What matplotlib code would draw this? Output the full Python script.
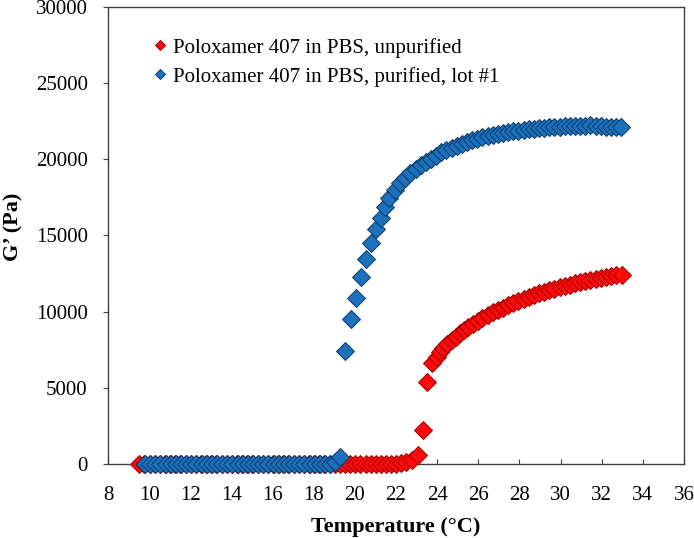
import matplotlib.pyplot as plt

# temperatures (C) and storage modulus G' (Pa)
temp_unpurified = [9.52, 9.77, 10.02, 10.27, 10.52, 10.77, 11.02, 11.27, 11.52, 11.77,
                   12.02, 12.27, 12.52, 12.77, 13.02, 13.27, 13.52, 13.77, 14.02, 14.27,
                   14.52, 14.77, 15.02, 15.27, 15.52, 15.77, 16.02, 16.27, 16.52, 16.77,
                   17.02, 17.27, 17.52, 17.77, 18.02, 18.27, 18.52, 18.77, 19.02, 19.27,
                   19.52, 19.77, 20.02, 20.27, 20.52, 20.77, 21.02, 21.27, 21.52, 21.77,
                   22.0, 22.25, 22.5, 22.76, 23.05, 23.3, 23.5, 23.75, 23.97, 24.15,
                   24.3, 24.5, 24.7, 24.9, 25.1, 25.3, 25.5, 25.75, 26.0, 26.2,
                   26.45, 26.7, 26.95, 27.2, 27.45, 27.7, 27.95, 28.2, 28.45, 28.7,
                   28.95, 29.2, 29.45, 29.7, 29.95, 30.2, 30.45, 30.7, 30.95, 31.2,
                   31.45, 31.7, 31.95, 32.2, 32.45, 32.7, 32.97]
g_unpurified = [0, 0, 0, 0, 0, 0, 0, 0, 0, 0,
                0, 0, 0, 0, 0, 0, 0, 0, 0, 0,
                0, 0, 0, 0, 0, 0, 0, 0, 0, 0,
                0, 0, 0, 0, 0, 0, 0, 0, 0, 0,
                0, 0, 0, 0, 0, 0, 0, 0, 10, 20,
                30, 60, 120, 250, 560, 2200, 5400, 6600, 7050, 7350,
                7600, 7900, 8150, 8350, 8600, 8800, 9000, 9200, 9420, 9600,
                9780, 9950, 10110, 10260, 10420, 10560, 10700, 10840, 10970, 11090,
                11200, 11300, 11410, 11520, 11610, 11700, 11780, 11860, 11940, 12020,
                12100, 12170, 12230, 12290, 12340, 12380, 12400]

temp_purified = [9.8, 10.05, 10.3, 10.55, 10.8, 11.05, 11.3, 11.55, 11.8, 12.05,
                 12.3, 12.55, 12.8, 13.05, 13.3, 13.55, 13.8, 14.05, 14.3, 14.55,
                 14.8, 15.05, 15.3, 15.55, 15.8, 16.05, 16.3, 16.55, 16.8, 17.05,
                 17.3, 17.55, 17.8, 18.05, 18.3, 18.55, 18.8, 19.05, 19.3, 19.52,
                 19.8, 20.04, 20.3, 20.52, 20.77, 21.03, 21.26, 21.47, 21.68, 21.95,
                 22.2, 22.45, 22.7, 22.95, 23.2, 23.45, 23.7, 23.95, 24.2, 24.45,
                 24.7, 24.95, 25.2, 25.45, 25.7, 25.95, 26.2, 26.45, 26.7, 26.95,
                 27.2, 27.45, 27.7, 27.95, 28.2, 28.45, 28.7, 28.95, 29.2, 29.45,
                 29.7, 29.95, 30.2, 30.45, 30.7, 30.95, 31.2, 31.45, 31.7, 31.95,
                 32.2, 32.45, 32.7, 32.95]
g_purified = [0, 0, 0, 0, 0, 0, 0, 0, 0, 0,
              0, 0, 0, 0, 0, 0, 0, 0, 0, 0,
              0, 0, 0, 0, 0, 0, 0, 0, 0, 0,
              0, 0, 0, 0, 0, 0, 20, 100, 480, 7400,
              9550, 10900, 12250, 13450, 14500, 15400, 16150, 16850, 17450, 18000,
              18450, 18800, 19100, 19380, 19620, 19850, 20050, 20250, 20450, 20620,
              20760, 20900, 21030, 21140, 21250, 21350, 21440, 21520, 21600, 21670,
              21730, 21790, 21840, 21890, 21930, 21970, 22000, 22030, 22060, 22100,
              22120, 22140, 22160, 22170, 22180, 22200, 22210, 22280, 22200, 22170,
              22150, 22140, 22120, 22090]

labels = ['Poloxamer 407 in PBS, unpurified', 'Poloxamer 407 in PBS, purified, lot #1']

plt.rcParams['font.family'] = ['Liberation Serif', 'DejaVu Serif']

fig = plt.figure(figsize=(6.94, 5.38), dpi=100)
ax = fig.add_axes([108 / 694, 1 - 464 / 538, 576 / 694, 457 / 538])

ax.plot(temp_unpurified, g_unpurified, 'D', ms=9.3, color='#FF0A0A', mec='#A00000',
        mew=0.7, clip_on=False, zorder=3, label=labels[0])
ax.plot(temp_purified, g_purified, 'D', ms=9.3, color='#1D70BC', mec='#0C3A66',
        mew=0.7, clip_on=False, zorder=4, label=labels[1])

ax.set_xlim(8, 36)
ax.set_ylim(0, 30000)
ax.set_xticks(range(8, 37, 2))
ax.set_yticks(range(0, 30001, 5000))

for side in ax.spines:
    ax.spines[side].set_color('#404040')
    ax.spines[side].set_linewidth(1)
ax.tick_params(axis='x', direction='in', length=3.6, color='#404040', labelsize=15, pad=15.5)
ax.tick_params(axis='y', direction='out', length=3.6, color='#404040', labelsize=15, pad=11)

ax.set_xlabel('Temperature (\u00b0C)', fontsize=16, fontweight='bold')
ax.set_ylabel('G\u2019 (Pa)', fontsize=16, fontweight='bold')
ax.xaxis.set_label_coords(0.5, -0.115)
ax.yaxis.set_label_coords(-0.146, 0.52)

ax.legend(loc='upper left', bbox_to_anchor=(0.081, 0.933), frameon=False, fontsize=15,
          handlelength=0.5, handletextpad=0.375, borderpad=0, borderaxespad=0,
          labelspacing=0.44, markerscale=0.55)

fig.savefig('out.png', dpi=100)
